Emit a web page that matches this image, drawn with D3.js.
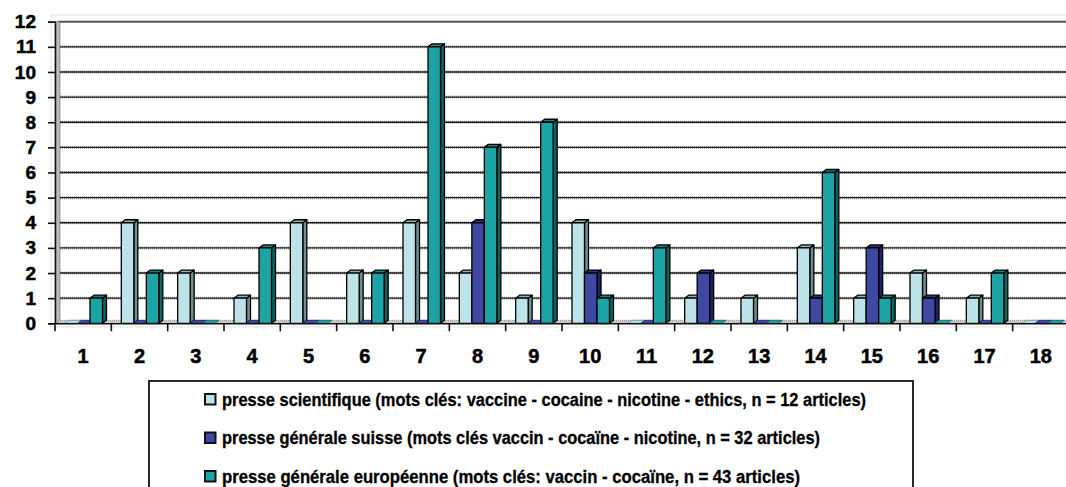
<!DOCTYPE html>
<html><head><meta charset="utf-8">
<script src="https://cdn.jsdelivr.net/npm/d3@7"></script>
<style>html,body{margin:0;padding:0;background:#fff;overflow:hidden}</style>
</head><body><svg id="c" width="1066" height="487"></svg>
<script>
const categories = ["1","2","3","4","5","6","7","8","9","10","11","12","13","14","15","16","17","18"];
const seriesNames = [
  "presse scientifique (mots clés: vaccine - cocaine - nicotine - ethics, n = 12 articles)",
  "presse générale suisse (mots clés vaccin - cocaïne - nicotine, n = 32 articles)",
  "presse générale européenne (mots clés: vaccin - cocaïne, n = 43 articles)"
];
const scientifique = [0,4,2,1,4,2,4,2,1,4,0,1,1,3,1,2,1,0];
const suisse       = [0,0,0,0,0,0,0,4,0,2,0,2,0,1,3,1,0,0];
const europeenne   = [1,2,0,3,0,2,11,7,8,1,3,0,0,6,1,0,2,0];
const yTicks = [0,1,2,3,4,5,6,7,8,9,10,11,12];

const colors = [
  {front:"#BCE3E7", side:"#6F8E92", top:"#8FB3B7"},
  {front:"#3F49A1", side:"#1C2268", top:"#2B3385"},
  {front:"#1CA3A3", side:"#0B6464", top:"#138585"}
];
const series = [scientifique, suisse, europeenne];
const FONT = "Liberation Sans, Arial, Helvetica, sans-serif";

const svg = d3.select("#c");
const x = d3.scaleBand().domain(categories).range([55, 1069]).paddingInner(0).paddingOuter(0);
const xs = d3.scaleBand().domain([0,1,2]).range([10, 47.5]).padding(0);
const y = d3.scaleLinear().domain([0, 12]).range([323.3, 21.7]);
const dx = 4, dy = 3;

// faint outer frame
svg.append("rect").attr("x",51).attr("y",15).attr("width",1030).attr("height",312)
  .attr("fill","none").attr("stroke","#e2e2e2").attr("stroke-width",1);

// gridlines
const g = svg.append("g");
yTicks.forEach(t => {
  if (t === 0) return;
  if (t === 12) {
    g.append("line").attr("x1",58).attr("x2",1066).attr("y1",y(t)).attr("y2",y(t))
      .attr("stroke","#555").attr("stroke-width",2);
  } else {
    g.append("line").attr("x1",58).attr("x2",1066).attr("y1",y(t)).attr("y2",y(t))
      .attr("stroke","#777").attr("stroke-width",3).attr("stroke-dasharray","1 1").attr("opacity",0.7);
    g.append("line").attr("x1",58).attr("x2",1066).attr("y1",y(t)).attr("y2",y(t))
      .attr("stroke","#1a1a1a").attr("stroke-width",1.4);
  }
});

// left wall
svg.append("rect").attr("x",55).attr("y",y(12)).attr("width",5).attr("height",y(0)-y(12))
  .attr("fill","#bbb").attr("stroke","#555").attr("stroke-width",1).attr("stroke-dasharray","1 1");
// floor
svg.append("rect").attr("x",58).attr("y",y(0)-3).attr("width",1010).attr("height",3)
  .attr("fill","#c8c8c8").attr("stroke","#777").attr("stroke-width",0.8).attr("stroke-dasharray","1 1");

// bars
const bars = svg.append("g");
categories.forEach((c, i) => {
  series.forEach((s, k) => {
    const v = s[i];
    const x0 = x(c) + xs(k), w = xs.bandwidth();
    const yt = y(v), yb = y(0);
    const col = colors[k];
    const gg = bars.append("g").attr("stroke","#000").attr("stroke-width",1.3).attr("stroke-linejoin","round");
    if (v > 0) {
      gg.append("path").attr("d", `M${x0+w},${yt} L${x0+w+dx},${yt-dy} L${x0+w+dx},${yb-dy} L${x0+w},${yb} Z`)
        .attr("fill", col.side);
      gg.append("path").attr("d", `M${x0},${yt} L${x0+dx},${yt-dy} L${x0+w+dx},${yt-dy} L${x0+w},${yt} Z`)
        .attr("fill", col.top);
      gg.append("rect").attr("x",x0).attr("y",yt).attr("width",w).attr("height",yb-yt)
        .attr("fill", col.front);
    } else {
      gg.append("path").attr("d", `M${x0},${yb} L${x0+dx},${yb-dy} L${x0+w+dx},${yb-dy} L${x0+w},${yb} Z`)
        .attr("fill", col.front).attr("stroke", col.side).attr("stroke-width",0.8);
    }
  });
});

// baseline
svg.append("line").attr("x1",55).attr("x2",1069).attr("y1",y(0)+0.5).attr("y2",y(0)+0.5)
  .attr("stroke","#111").attr("stroke-width",1.6);

// y axis
const yAxis = d3.axisLeft(y).tickValues(yTicks).tickSize(7).tickPadding(12).tickFormat(d3.format("d"));
const ya = svg.append("g").attr("transform","translate(55,0)").call(yAxis);
ya.select(".domain").attr("stroke","#111").attr("stroke-width",1.5);
ya.selectAll(".tick line").attr("stroke","#111").attr("stroke-width",1.6);
ya.selectAll("text").attr("font-family",FONT).attr("font-weight","bold")
  .attr("font-size",19).attr("fill","#000").attr("stroke","#000").attr("stroke-width",0.5);

// x axis
const xAxis = d3.axisBottom(x).tickSize(0).tickPadding(26);
const xa = svg.append("g").attr("transform",`translate(0,${y(0)})`).call(xAxis);
xa.select(".domain").remove();
xa.selectAll("text").attr("font-family",FONT).attr("font-weight","bold")
  .attr("font-size",20).attr("fill","#000").attr("stroke","#000").attr("stroke-width",0.5);
// boundary tick marks
const bounds = categories.map(c => x(c)).concat([x.range()[1]]);
svg.append("g").selectAll("line").data(bounds).join("line")
  .attr("x1",d=>d).attr("x2",d=>d).attr("y1",y(0)).attr("y2",y(0)+8)
  .attr("stroke","#111").attr("stroke-width",1.6);

// legend
const lg = svg.append("g");
lg.append("rect").attr("x",149).attr("y",381).attr("width",764).attr("height",130)
  .attr("fill","#fff").attr("stroke","#111").attr("stroke-width",1.8);
const rowY = [399.5, 438, 476.5];
const textW = [644, 598, 578];
seriesNames.forEach((name, k) => {
  lg.append("rect").attr("x",205).attr("y",rowY[k]-5.5).attr("width",10.5).attr("height",10.5)
    .attr("fill",colors[k].front).attr("stroke","#111").attr("stroke-width",2);
  lg.append("text").attr("x",222).attr("y",rowY[k]+6)
    .attr("font-family",FONT).attr("font-weight","bold")
    .attr("font-size",18).attr("fill","#000").attr("stroke","#000").attr("stroke-width",0.3)
    .attr("textLength",textW[k]).attr("lengthAdjust","spacingAndGlyphs")
    .text(name);
});
</script></body></html>
